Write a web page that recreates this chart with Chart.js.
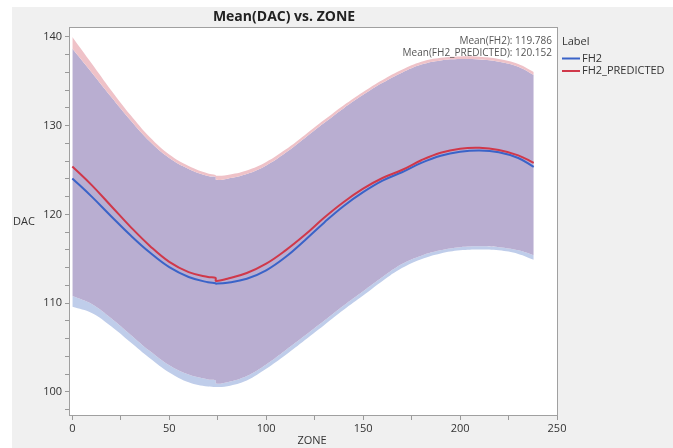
<!DOCTYPE html>
<html>
<head>
<meta charset="utf-8">
<script src="https://cdn.jsdelivr.net/npm/chart.js@4.4.1/dist/chart.umd.min.js"></script>
<style>
  html, body { margin: 0; padding: 0; background: #fff; }
  #chart { display: block; }
</style>
</head>
<body>
<canvas id="chart" width="673" height="448"></canvas>
<script>
const zone = [0, 10, 20, 30, 40, 50, 60, 70, 73.9, 74.1, 80, 90, 100, 110, 120, 130, 140, 150, 160, 170, 180, 190, 200, 210, 220, 230, 238];

// mean curves
const fh2 = [124.05, 122.0, 119.8, 117.65, 115.7, 114.05, 112.95, 112.35, 112.25, 112.2, 112.3, 112.75, 113.7, 115.2, 117.1, 119.1, 120.95, 122.5, 123.8, 124.75, 125.8, 126.6, 127.05, 127.2, 127.0, 126.35, 125.35];
const fh2Pred = [125.4, 123.3, 120.95, 118.6, 116.45, 114.65, 113.5, 112.95, 112.85, 112.5, 112.75, 113.4, 114.45, 115.95, 117.7, 119.65, 121.4, 122.9, 124.1, 125.0, 126.1, 126.95, 127.4, 127.5, 127.25, 126.65, 125.8];

// band edges
const predUpper = [140.0, 137.0, 134.0, 131.2, 128.7, 126.75, 125.45, 124.6, 124.45, 124.35, 124.45, 124.95, 125.9, 127.3, 128.95, 130.65, 132.3, 133.8, 135.15, 136.3, 137.2, 137.65, 137.8, 137.75, 137.5, 136.95, 136.05];
const fh2Upper = [138.7, 136.0, 133.25, 130.6, 128.2, 126.35, 125.12, 124.32, 124.2, 123.9, 124.03, 124.55, 125.52, 126.95, 128.62, 130.32, 131.97, 133.47, 134.82, 135.97, 136.88, 137.35, 137.5, 137.45, 137.2, 136.63, 135.7];
const predLower = [110.8, 109.9, 108.3, 106.45, 104.6, 103.0, 101.95, 101.4, 101.3, 100.95, 101.1, 101.8, 103.1, 104.7, 106.35, 108.05, 109.75, 111.35, 112.95, 114.4, 115.35, 115.95, 116.3, 116.4, 116.3, 115.95, 115.4];
const fh2Lower = [109.6, 108.9, 107.4, 105.6, 103.8, 102.2, 101.1, 100.6, 100.55, 100.55, 100.65, 101.3, 102.6, 104.15, 105.85, 107.55, 109.25, 110.85, 112.5, 113.95, 114.95, 115.6, 115.95, 116.05, 115.95, 115.55, 114.9];

const xLabels = [0, 50, 100, 150, 200, 250];
const yLabels = [100, 110, 120, 130, 140];
const meanNotes = ["Mean(FH2): 119.786", "Mean(FH2_PREDICTED): 120.152"];
const legendItems = [
  { text: "FH2", color: "#3a63c8" },
  { text: "FH2_PREDICTED", color: "#d0384a" }
];

const FONT = "'Open Sans', 'Noto Sans', sans-serif";

function pts(vals) {
  return zone.map((x, i) => ({ x, y: vals[i] }));
}

function edge(vals, fill, color) {
  return {
    data: pts(vals),
    borderWidth: 0,
    pointRadius: 0,
    fill,
    backgroundColor: color,
    tension: 0.4
  };
}

function meanLine(label, vals, color) {
  return {
    label,
    data: pts(vals),
    borderColor: color,
    borderWidth: 2,
    pointRadius: 0,
    fill: false,
    tension: 0.4
  };
}

const decor = {
  id: "decor",
  beforeDraw(chart) {
    const c = chart.ctx;
    c.save();
    c.fillStyle = "#f0f0f0";
    c.fillRect(12, 7, chart.width - 12, chart.height - 7);
    const a = chart.chartArea;
    c.fillStyle = "#fff";
    c.fillRect(a.left, a.top, a.right - a.left, a.bottom - a.top);
    c.restore();
  },
  afterDraw(chart) {
    const c = chart.ctx;
    const a = chart.chartArea;
    c.save();
    c.strokeStyle = "#a0a0a0";
    c.lineWidth = 1;
    c.strokeRect(a.left - 0.5, a.top - 0.5, a.right - a.left + 1, a.bottom - a.top + 1);

    c.fillStyle = "#222";
    c.font = "bold 14px " + FONT;
    c.textAlign = "center";
    c.textBaseline = "middle";
    c.fillText("Mean(DAC) vs. ZONE", 284, 17);

    c.fillStyle = "#555";
    c.font = "10px " + FONT;
    c.textAlign = "right";
    c.fillText(meanNotes[0], a.right - 5, 41);
    c.fillText(meanNotes[1], a.right - 5, 53);

    c.fillStyle = "#333";
    c.font = "11px " + FONT;
    c.textAlign = "left";
    c.fillText("Label", 562, 42);
    legendItems.forEach((it, i) => {
      const y = 58.5 + i * 12.5;
      c.strokeStyle = it.color;
      c.lineWidth = 2;
      c.beginPath();
      c.moveTo(562, y);
      c.lineTo(580, y);
      c.stroke();
      c.fillText(it.text, 582, y);
    });

    c.textAlign = "left";
    c.fillText("DAC", 13, 222);
    c.textAlign = "center";
    c.fillText("ZONE", 312, 441);
    c.restore();
  }
};

new Chart(document.getElementById("chart"), {
  type: "line",
  data: {
    datasets: [
      meanLine("FH2_PREDICTED", fh2Pred, "#d0384a"),
      meanLine("FH2", fh2, "#3a63c8"),
      edge(predUpper, "+1", "#efc2c8"),
      edge(fh2Upper, "+1", "#b9aed1"),
      edge(predLower, "+1", "#bfcdea"),
      edge(fh2Lower, false, "transparent")
    ]
  },
  options: {
    responsive: false,
    animation: false,
    layout: { padding: { left: 0, top: 28, right: 116, bottom: 0 } },
    plugins: {
      legend: { display: false },
      tooltip: { enabled: false },
      title: { display: false }
    },
    scales: {
      x: {
        type: "linear",
        min: -1.2,
        max: 250,
        afterFit: (s) => { s.height = 33; },
        border: { display: false },
        grid: { drawOnChartArea: false, tickLength: 5, tickColor: "#999" },
        ticks: {
          stepSize: 25,
          autoSkip: false,
          includeBounds: false,
          maxRotation: 0,
          padding: 2,
          color: "#333",
          font: { family: FONT, size: 11 },
          callback: (v) => xLabels.includes(v) ? String(v) : ""
        }
      },
      y: {
        min: 97.4,
        max: 141,
        afterFit: (s) => { s.width = 70; },
        border: { display: false },
        grid: { drawOnChartArea: false, tickLength: 5, tickColor: "#999" },
        ticks: {
          stepSize: 2,
          autoSkip: false,
          includeBounds: false,
          padding: 3,
          color: "#333",
          font: { family: FONT, size: 11 },
          callback: (v) => yLabels.includes(v) ? String(v) : ""
        }
      }
    }
  },
  plugins: [decor]
});
</script>
</body>
</html>
